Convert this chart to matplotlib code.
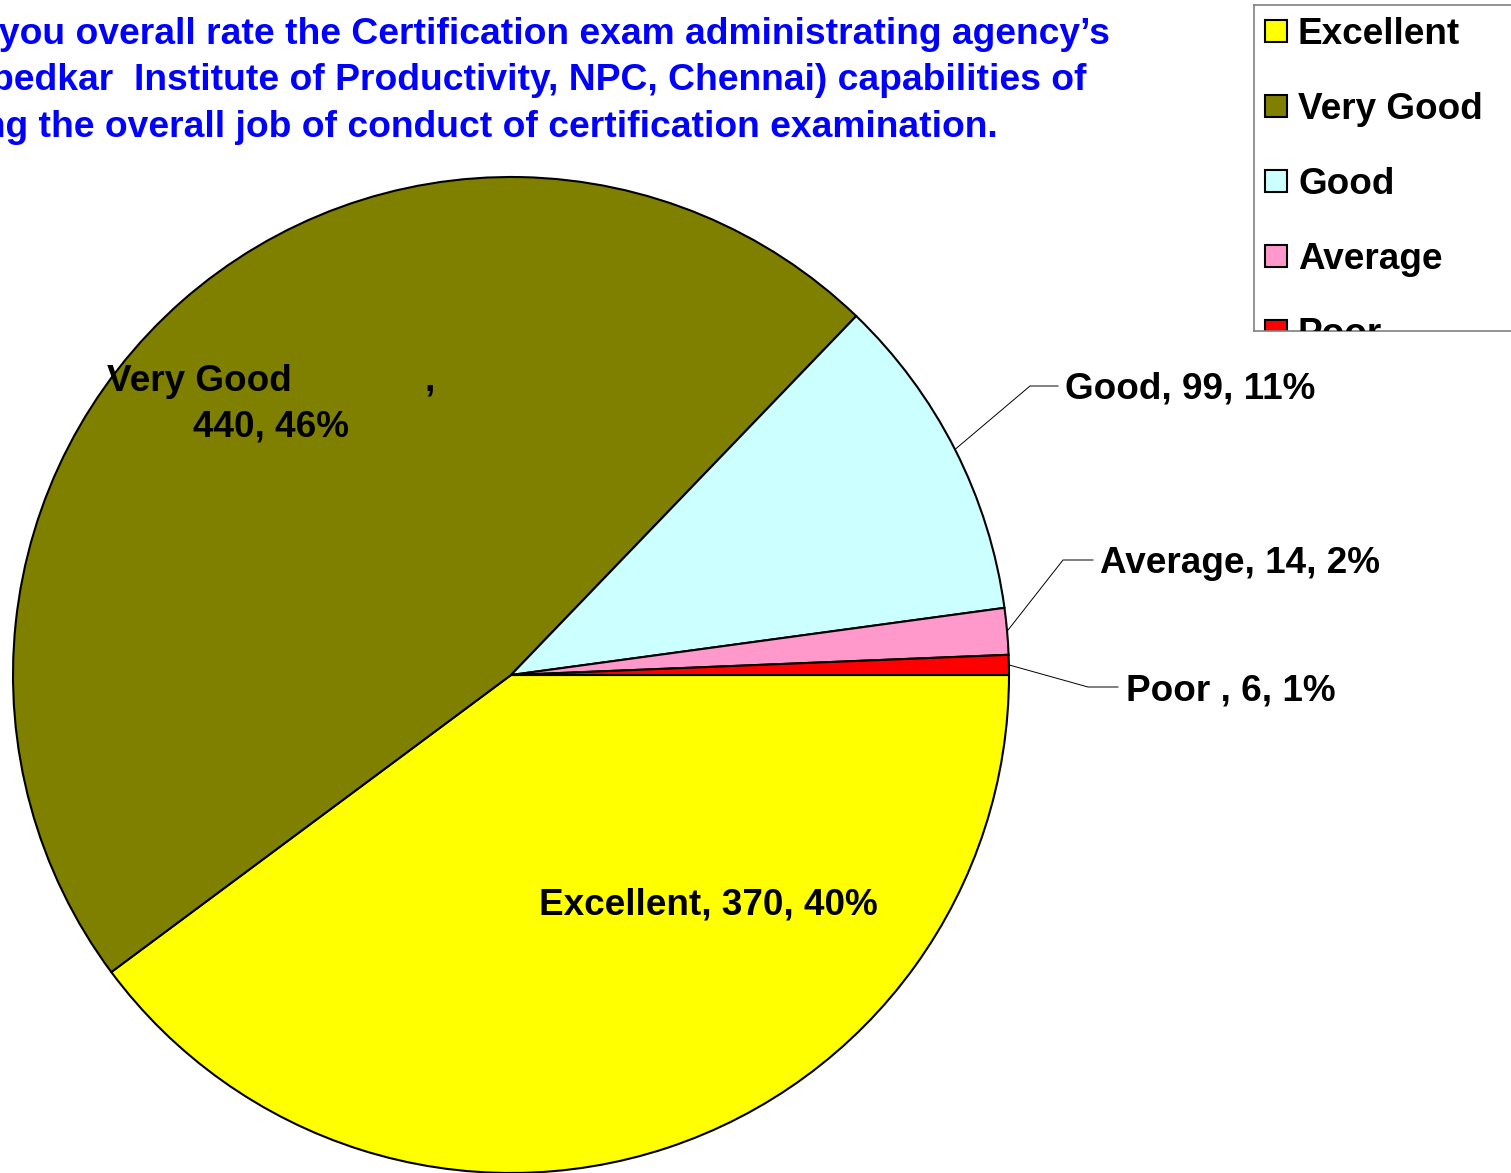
import numpy as np
import matplotlib
matplotlib.use('Agg')
import matplotlib.pyplot as plt
from matplotlib.patches import Rectangle

# Chart data
categories = ['Excellent', 'Very Good', 'Good', 'Average', 'Poor']
counts = [370, 440, 99, 14, 6]
percents = [40, 46, 11, 2, 1]
colors = ['#FFFF00', '#808000', '#CCFFFF', '#FF99CC', '#FF0000']
title_lines = [
    'How do you overall rate the Certification exam administrating agency\u2019s',
    '(Dr. Ambedkar  Institute of Productivity, NPC, Chennai) capabilities of',
    'doing the overall job of conduct of certification examination.',
]

plt.rcParams['font.family'] = ['Liberation Sans', 'DejaVu Sans']
plt.rcParams['font.weight'] = 'bold'
FS = 26.6

W, H = 1511, 1173
fig = plt.figure(figsize=(W / 100, H / 100), dpi=100)
ax = fig.add_axes([0, 0, 1, 1])

# pie in pixel coordinates (y axis inverted, so counterclock=True draws clockwise)
cx, cy, r = 511, 675, 498
wedges, _ = ax.pie(counts, colors=colors, startangle=0, counterclock=True,
                   center=(cx, cy), radius=r,
                   wedgeprops=dict(edgecolor='black', linewidth=1.5))
ax.set_xlim(0, W)
ax.set_ylim(H, 0)
ax.set_aspect('equal')
ax.axis('off')

# title, clipped at left edge like the original
for line, xr, yb in zip(title_lines, [1110, 1087, 998], [44, 90, 137]):
    ax.text(xr, yb, line, ha='right', va='baseline', fontsize=FS + 0.2,
            color='#0000FF', fontweight='bold')

# inside labels
ax.text(271, 437, f'{categories[1]}             ,\n{counts[1]}, {percents[1]}%',
        ha='center', va='baseline', multialignment='center', fontsize=FS,
        linespacing=1.4)
ax.text(708, 914, f'{categories[0]}, {counts[0]}, {percents[0]}%',
        ha='center', va='baseline', fontsize=FS)

# outside labels with leader lines
outside = [(2, 1030, 386, 1058, 1065, ''), (3, 1063, 560, 1093, 1100, ''),
           (4, 1088, 687, 1118, 1126, ' ')]
for i, bx, by, ex, tx, sp in outside:
    w = wedges[i]
    mid = np.deg2rad((w.theta1 + w.theta2) / 2)
    sx, sy = cx + r * np.cos(mid), cy + r * np.sin(mid)
    ax.plot([sx, bx, ex], [sy, by, by], color='black', linewidth=0.7)
    ax.text(tx, by + 13, f'{categories[i]}{sp}, {counts[i]}, {percents[i]}%',
            ha='left', va='baseline', fontsize=FS)

# legend box (cropped at bottom and right like the original)
lx0, ly0, lx1, ly1 = 1254, 5, 1530, 331
lax = fig.add_axes([lx0 / W, 1 - ly1 / H, (lx1 - lx0) / W, (ly1 - ly0) / H])
lax.set_xlim(lx0, lx1)
lax.set_ylim(ly1, ly0)
lax.set_xticks([])
lax.set_yticks([])
for s in lax.spines.values():
    s.set_color('#808080')
    s.set_linewidth(1.2)
for i, (cat, col) in enumerate(zip(categories, colors)):
    yc = 31 + 75 * i
    lax.add_patch(Rectangle((1265, yc - 11), 22, 22, facecolor=col,
                            edgecolor='black', linewidth=1.5, clip_on=True))
    lax.text(1298, yc + 13, cat, ha='left', va='baseline', fontsize=FS,
             clip_on=True)

fig.savefig('out.png', dpi=100)
